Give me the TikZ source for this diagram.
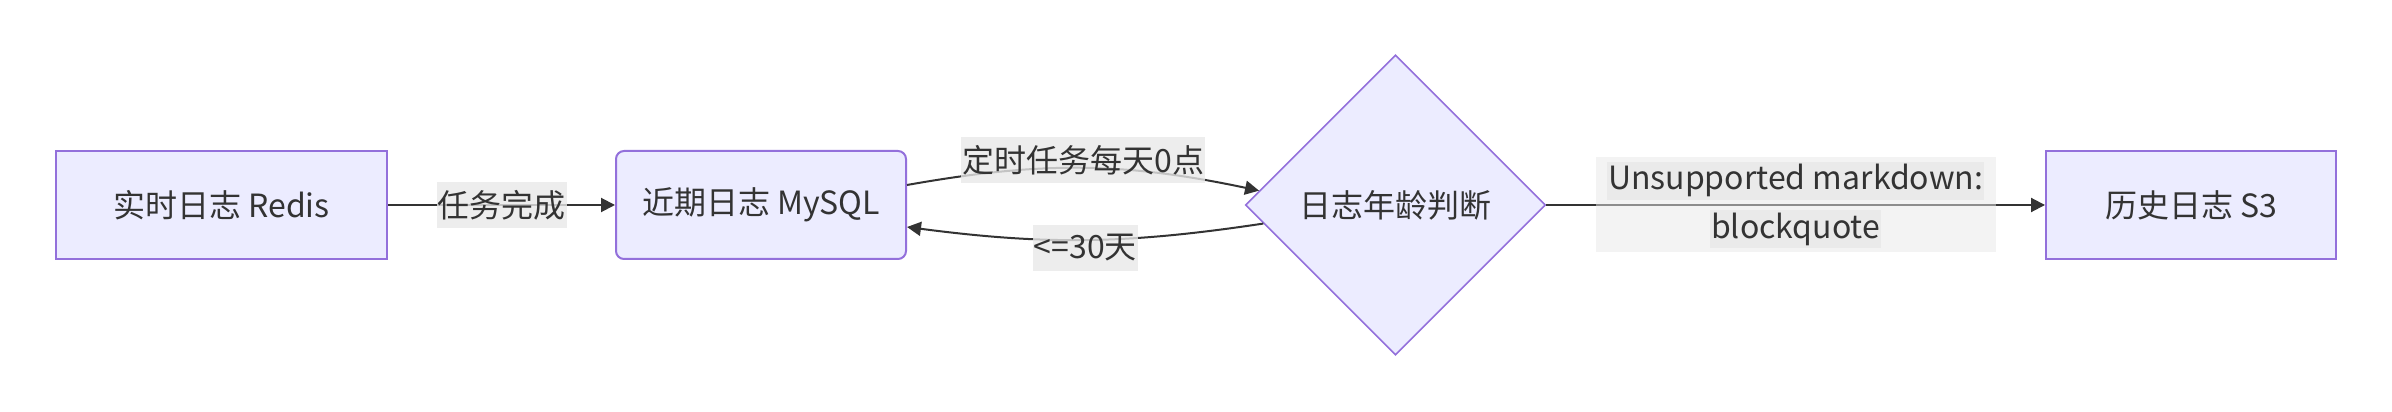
\documentclass[tikz,border=0pt]{standalone}
\usepackage{fontspec}
\setmainfont{Noto Sans CJK SC}
\usetikzlibrary{shapes.geometric,arrows.meta}
\definecolor{boxfill}{HTML}{ECECFF}
\definecolor{boxline}{HTML}{9370DB}
\definecolor{ink}{HTML}{333333}
\definecolor{lblfill}{HTML}{E8E8E8}

\begin{document}
\begin{tikzpicture}[
  x=0.5pt, y=0.5pt,
  font=\fontsize{16}{19}\selectfont,
  every node/.style={text=ink},
  store/.style={draw=boxline, fill=boxfill, line width=1pt, minimum height=54pt, inner sep=0pt},
  check/.style={diamond, draw=boxline, fill=boxfill, line width=0.8pt, minimum width=150pt, minimum height=150pt, inner sep=0pt},
  flow/.style={draw=ink, line width=1pt, -{Triangle[length=7pt,width=7pt]}},
  tag/.style={fill=lblfill, fill opacity=0.8, text opacity=1, inner sep=0.5pt, minimum height=23pt},
  qbox/.style={fill=lblfill, fill opacity=0.5, minimum width=200pt, minimum height=47.5pt, inner sep=0pt},
]
\useasboundingbox (0,0) rectangle (2392,412);
\node[store, minimum width=165.5pt] (redis) at (221.5,207) {实时日志 Redis};
\node[store, minimum width=145pt, rounded corners=4pt] (mysql) at (761,207) {近期日志 MySQL};
\node[check] (judge) at (1395.5,207) {日志年龄判断};
\node[store, minimum width=145pt] (s3) at (2191,207) {历史日志 S3};
\draw[flow] (redis) -- node[tag] {任务完成} (mysql);
\draw[flow] ([yshift=10pt]mysql.east) to[bend left=11] node[tag, yshift=4pt] {定时任务每天0点} (judge.174);
\draw[flow] (judge.188) to[bend left=8] node[tag, yshift=-4pt] {<=30天} ([yshift=-11pt]mysql.east);
\draw[flow] (judge) -- node[qbox] (q) {} (s3);
\node[tag, minimum height=19pt, anchor=south] (q1) at ([yshift=2.5pt]q.center) {Unsupported markdown:};
\node[tag, minimum height=19pt, anchor=north] (q2) at ([yshift=-2.5pt]q.center) {blockquote};
\end{tikzpicture}
\end{document}
